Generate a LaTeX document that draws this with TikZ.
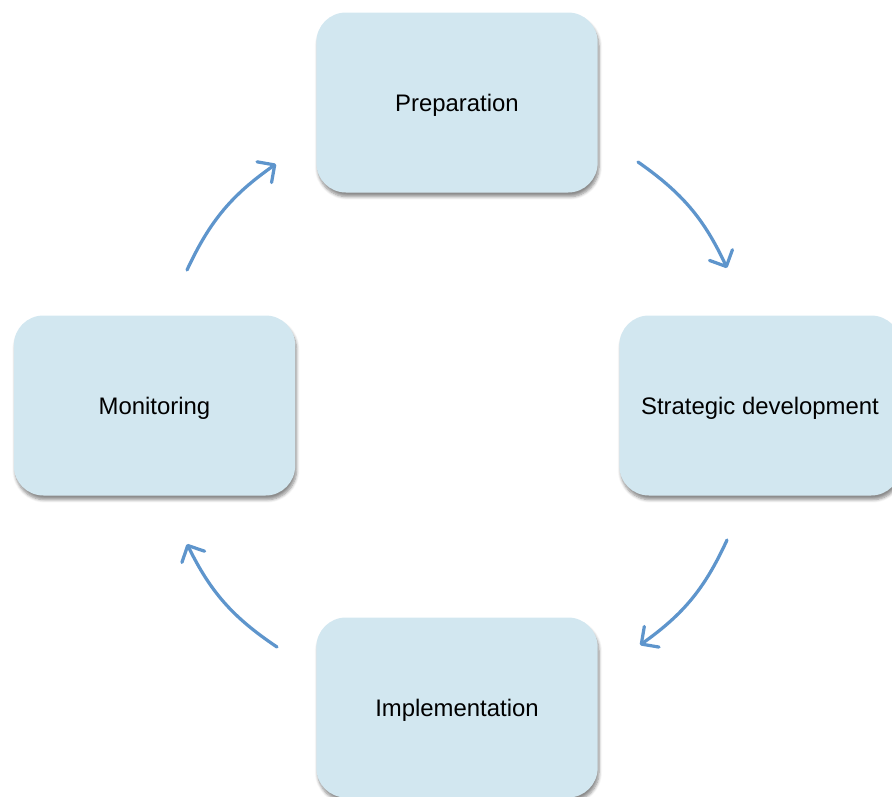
\documentclass[tikz,border=0pt]{standalone}
\usepackage{fontspec}
\setmainfont{Liberation Sans}
\usetikzlibrary{arrows.meta,shadows.blur}
\definecolor{stagefill}{RGB}{210,231,240}
\definecolor{flowblue}{RGB}{94,149,204}
\tikzset{
  stage/.style={rounded corners=21pt, fill=stagefill, minimum width=200pt, minimum height=128pt,
    font=\fontsize{17}{20}\selectfont, text depth=0pt,
    blur shadow={shadow xshift=1pt, shadow yshift=-3pt, shadow blur steps=6, shadow opacity=45}},
  flow/.style={draw=flowblue, line width=2.3pt, line cap=round,
    -{Straight Barb[length=9pt,width=18pt,line cap=round,line join=round]}}
}
\begin{document}
\begin{tikzpicture}[x=0.025cm,y=-0.025cm]
  \useasboundingbox (0,0) rectangle (892,796);
  \clip (0,0) rectangle (892,796);
  % the four stages
  \node[stage] (prep) at (457,102.5) {Preparation};
  \node[stage] (strat) at (760,405.5) {Strategic development};
  \node[stage] (impl) at (457,707.5) {Implementation};
  \node[stage] (mon) at (154.5,405.5) {Monitoring};
  % arrow ends
  \coordinate (prepout) at (638,162);
  \coordinate (stratin) at (727,268);
  \coordinate (stratout) at (727,540);
  \coordinate (implin) at (640,645);
  \coordinate (implout) at (277,647);
  \coordinate (monin) at (187,544);
  \coordinate (monout) at (187,270);
  \coordinate (prepin) at (276,164);
  \draw[flow] (prepout) to[bend left=15] (stratin);
  \draw[flow] (stratout) to[bend left=15] (implin);
  \draw[flow] (implout) to[bend left=15] (monin);
  \draw[flow] (monout) to[bend left=15] (prepin);
\end{tikzpicture}
\end{document}
